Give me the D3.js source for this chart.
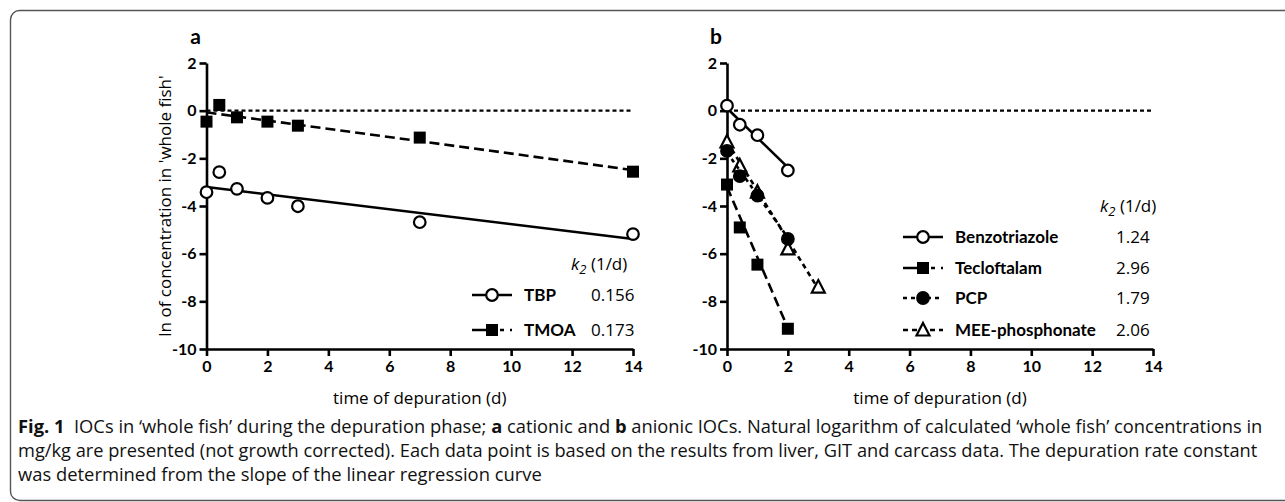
<!DOCTYPE html>
<html>
<head>
<meta charset="utf-8">
<script src="https://cdn.jsdelivr.net/npm/d3@7"></script>
<style>
  body { margin: 0; background: #fff; }
  svg { display: block; }
</style>
</head>
<body>
<div id="chart"></div>
<script>
// values
var yTicks = [-10, -8, -6, -4, -2, 0, 2]
var xTicks = [0, 2, 4, 6, 8, 10, 12, 14]

// panel a: cationic IOCs
var timeA = [0, 0.42, 1, 2, 3, 7, 14]
var tbp = [-3.42, -2.58, -3.28, -3.66, -4.01, -4.68, -5.18]
var tmoa = [-0.46, 0.24, -0.28, -0.46, -0.63, -1.13, -2.56]

// panel b: anionic IOCs
var timeB = [0, 0.42, 1, 2]
var timeMee = [0, 0.42, 1, 2, 3]
var benzotriazole = [0.21, -0.59, -1.03, -2.51]
var tecloftalam = [-3.1, -4.9, -6.46, -9.15]
var pcp = [-1.69, -2.75, -3.56, -5.38]
var mee = [-1.31, -2.32, -3.42, -5.8, -7.4]

// regression lines: [intercept, slope, xEnd]
var fitTbp = [-3.2, -0.156, 14]
var fitTmoa = [-0.07, -0.173, 14]
var fitBenzo = [0.1, -1.24, 2]
var fitTeclo = [-3.2, -2.96, 2]
var fitPcp = [-1.75, -1.79, 2]
var fitMee = [-1.3, -2.06, 3]

var namesA = ['TBP', 'TMOA']
var k2A = ['0.156', '0.173']
var namesB = ['Benzotriazole', 'Tecloftalam', 'PCP', 'MEE-phosphonate']
var k2B = ['1.24', '2.96', '1.79', '2.06']

var W = 1285, H = 502
var svg = d3.select('#chart').append('svg').attr('width', W).attr('height', H)

// figure frame (rounded, continues off to the right)
svg.append('rect')
  .attr('x', 10.5).attr('y', 10.5)
  .attr('width', 1300).attr('height', 490)
  .attr('rx', 9)
  .attr('fill', 'none').attr('stroke', '#555').attr('stroke-width', 1.4)

var fontTick = 'Lato, "Open Sans", sans-serif'
var fontText = '"Open Sans", Lato, sans-serif'

var y = d3.scaleLinear().domain([-10, 2]).range([349, 63])

function panel(left, right, letter) {
  var x = d3.scaleLinear().domain([0, 14]).range([left, right])
  var g = svg.append('g')

  // plain hyphen for negatives, as in the figure
  var fmt = function(d) { return String(d) }
  var xAxis = d3.axisBottom(x).tickValues(xTicks).tickFormat(fmt).tickSize(7).tickSizeOuter(0).tickPadding(5)
  var yAxis = d3.axisLeft(y).tickValues(yTicks).tickFormat(fmt).tickSize(7).tickSizeOuter(0).tickPadding(3)

  g.append('g').attr('transform', 'translate(0,' + y(-10) + ')').call(xAxis)
  g.append('g').attr('transform', 'translate(' + left + ',0)').call(yAxis)

  g.selectAll('.domain, .tick line').attr('stroke', '#000').attr('stroke-width', 2.6)
  g.selectAll('.tick text')
    .attr('fill', '#000')
    .style('font-family', fontTick)
    .style('font-weight', 'bold')
    .style('font-size', '16px')

  // zero reference line
  g.append('line')
    .attr('x1', x(0)).attr('x2', x(14))
    .attr('y1', y(0)).attr('y2', y(0))
    .attr('stroke', '#000').attr('stroke-width', 2.4)
    .attr('stroke-dasharray', '4,3')

  g.append('text')
    .attr('x', left - 11).attr('y', 44)
    .attr('text-anchor', 'middle')
    .style('font-family', fontTick).style('font-weight', 'bold').style('font-size', '21px')
    .text(letter)

  g.append('text')
    .attr('x', (left + right) / 2).attr('y', 404)
    .attr('text-anchor', 'middle')
    .style('font-family', fontText).style('font-size', '17px')
    .text('time of depuration (d)')

  return x
}

function marker(sel, shape, cx, cy) {
  if (shape === 'openCircle' || shape === 'dot') {
    sel.append('circle').attr('cx', cx).attr('cy', cy).attr('r', 5.8)
      .attr('fill', shape === 'dot' ? '#000' : '#fff')
      .attr('stroke', '#000').attr('stroke-width', 2.2)
  } else if (shape === 'square') {
    sel.append('rect').attr('x', cx - 6).attr('y', cy - 6).attr('width', 12).attr('height', 12)
      .attr('fill', '#000')
  } else if (shape === 'triangle') {
    sel.append('path')
      .attr('d', 'M' + cx + ',' + (cy - 7) + 'L' + (cx + 6.5) + ',' + (cy + 5.5) + 'L' + (cx - 6.5) + ',' + (cy + 5.5) + 'Z')
      .attr('fill', '#fff').attr('stroke', '#000').attr('stroke-width', 2.2)
  }
}

function series(x, times, vals, fit, shape, dash) {
  var g = svg.append('g')
  g.append('line')
    .attr('x1', x(0)).attr('y1', y(fit[0]))
    .attr('x2', x(fit[2])).attr('y2', y(fit[0] + fit[1] * fit[2]))
    .attr('stroke', '#000').attr('stroke-width', 2.6)
    .attr('stroke-dasharray', dash)
  vals.forEach(function(v, i) {
    marker(g, shape, x(times[i]), y(v))
  })
}

function legend(symX, textX, valX, kX, kY, rows) {
  var g = svg.append('g')
  var k = g.append('text').attr('x', kX).attr('y', kY)
    .style('font-family', fontText).style('font-size', '17px')
  k.append('tspan').style('font-style', 'italic').text('k')
  k.append('tspan').style('font-style', 'italic').style('font-size', '13px').attr('dy', 4).text('2')
  k.append('tspan').attr('dy', -4).text(' (1/d)')

  rows.forEach(function(r) {
    g.append('line')
      .attr('x1', symX - 20).attr('x2', symX + 20)
      .attr('y1', r.y).attr('y2', r.y)
      .attr('stroke', '#000').attr('stroke-width', 2.6)
      .attr('stroke-dasharray', r.dash)
    marker(g, r.shape, symX, r.y)
    g.append('text').attr('x', textX).attr('y', r.y + 6)
      .style('font-family', fontTick).style('font-weight', 'bold').style('font-size', '17px')
      .text(r.name)
    g.append('text').attr('x', valX).attr('y', r.y + 6)
      .style('font-family', fontText).style('font-size', '17px')
      .text(r.k2)
  })
}

// panel a
var xA = panel(206.5, 633, 'a')
series(xA, timeA, tbp, fitTbp, 'openCircle', null)
series(xA, timeA, tmoa, fitTmoa, 'square', '10,5')

svg.append('text')
  .attr('transform', 'translate(171,206) rotate(-90)')
  .attr('text-anchor', 'middle')
  .style('font-family', fontText).style('font-size', '17px')
  .text("ln of concentration in 'whole fish'")

legend(492, 524, 591, 571, 270, [
  { y: 295, name: namesA[0], k2: k2A[0], shape: 'openCircle', dash: null },
  { y: 330, name: namesA[1], k2: k2A[1], shape: 'square', dash: '22,6,4,6' }
])

// panel b
var xB = panel(727, 1153, 'b')
series(xB, timeB, benzotriazole, fitBenzo, 'openCircle', null)
series(xB, timeB, tecloftalam, fitTeclo, 'square', '10,5')
series(xB, timeMee, mee, fitMee, 'triangle', '5,4')
series(xB, timeB, pcp, fitPcp, 'dot', '4,4')

legend(923, 955, 1116, 1100, 212, [
  { y: 237, name: namesB[0], k2: k2B[0], shape: 'openCircle', dash: null },
  { y: 268, name: namesB[1], k2: k2B[1], shape: 'square', dash: '22,6,4,6' },
  { y: 298, name: namesB[2], k2: k2B[2], shape: 'dot', dash: '4,4' },
  { y: 330, name: namesB[3], k2: k2B[3], shape: 'triangle', dash: '5,4' }
])

// caption
var capFont = '"Open Sans", sans-serif'
var captionLines = [
  { y: 433, w: 1245, parts: [['Fig. 1', true], ['  IOCs in \u2018whole fish\u2019 during the depuration phase; ', false], ['a', true], [' cationic and ', false], ['b', true], [' anionic IOCs. Natural logarithm of calculated \u2018whole fish\u2019 concentrations in', false]] },
  { y: 457, w: 1240, parts: [['mg/kg are presented (not growth corrected). Each data point is based on the results from liver, GIT and carcass data. The depuration rate constant', false]] },
  { y: 481, w: 524, parts: [['was determined from the slope of the linear regression curve', false]] }
]
captionLines.forEach(function(line) {
  var t = svg.append('text').attr('x', 0).attr('y', 0)
    .style('font-family', capFont).style('font-size', '18px').attr('fill', '#111')
    .attr('xml:space', 'preserve')
  line.parts.forEach(function(p) {
    t.append('tspan').style('font-weight', p[1] ? 'bold' : 'normal').text(p[0])
  })
  var w = t.node().getComputedTextLength()
  t.attr('transform', 'translate(18,' + line.y + ') scale(' + (line.w / w) + ',1)')
})
</script>
</body>
</html>
